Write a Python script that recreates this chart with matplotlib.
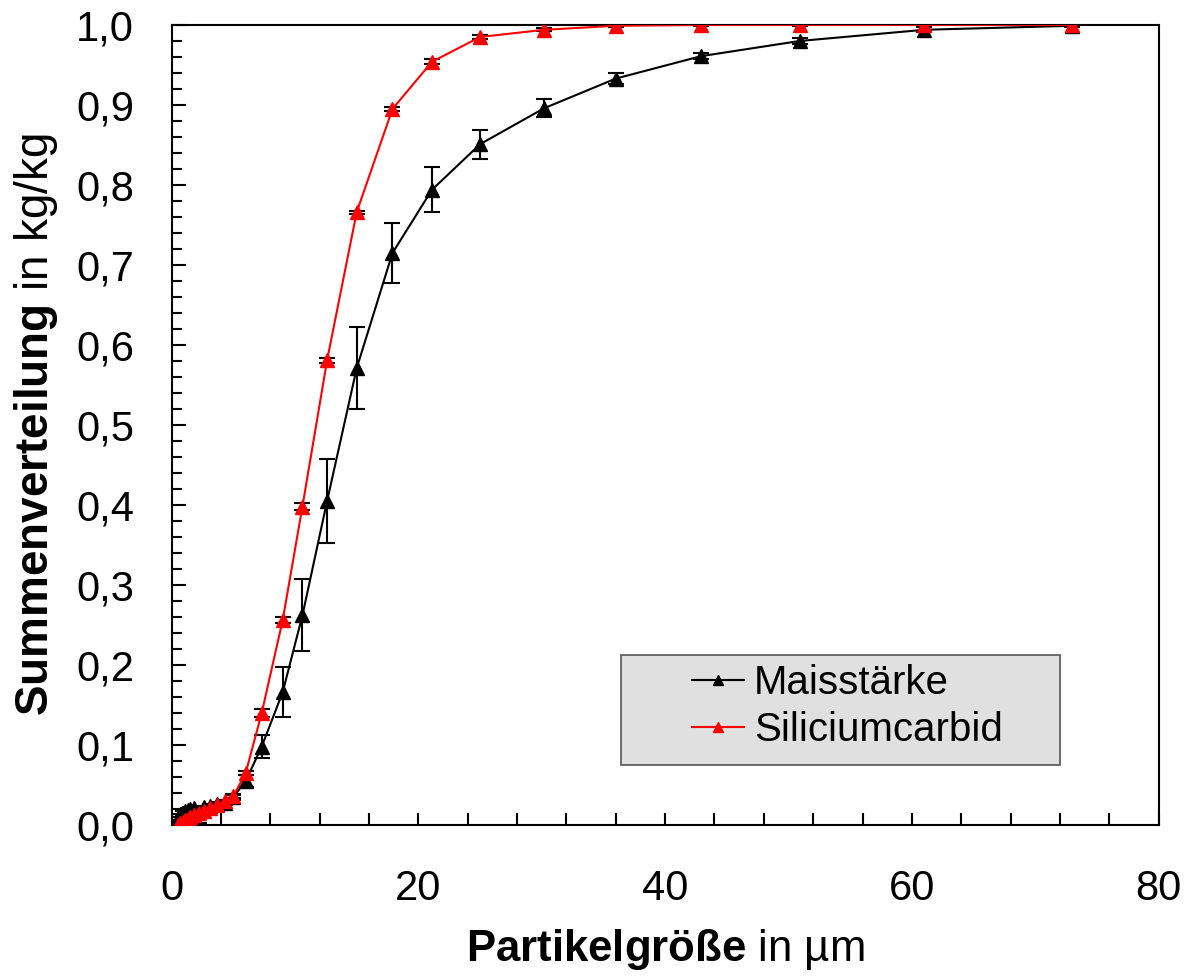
import numpy as np
import matplotlib.pyplot as plt
from matplotlib.patches import Rectangle
from matplotlib.lines import Line2D
from matplotlib.ticker import MultipleLocator, FuncFormatter

plt.rcParams['font.family'] = ['Liberation Sans', 'DejaVu Sans']
plt.rcParams['mathtext.fontset'] = 'custom'
plt.rcParams['mathtext.rm'] = 'Liberation Sans'
plt.rcParams['mathtext.bf'] = 'Liberation Sans:bold'

# particle size classes in um (shared by both samples)
size = [0.5, 0.7, 0.9, 1.1, 1.3, 1.5, 1.8, 2.2, 2.6, 3.1, 3.7, 4.3, 5.0, 6.0,
        7.3, 9.0, 10.6, 12.6, 15.0, 17.9, 21.1, 25.0, 30.2, 36.0, 42.9, 50.9, 61.0, 73.0]

mais = [0.008, 0.012, 0.015, 0.017, 0.019, 0.020, 0.021, 0.000, 0.022, 0.024, 0.026, 0.028, 0.035, 0.055,
        0.098, 0.166, 0.262, 0.405, 0.571, 0.715, 0.794, 0.851, 0.896, 0.933, 0.961, 0.980, 0.994, 0.999]
mais_err = [0.002, 0.002, 0.002, 0.002, 0.002, 0.002, 0.002, 0.002, 0.002, 0.002, 0.003, 0.003, 0.004, 0.007,
            0.014, 0.031, 0.045, 0.053, 0.051, 0.037, 0.028, 0.018, 0.011, 0.007, 0.004, 0.004, 0.003, 0.002]

sic = [0.000, 0.002, 0.004, 0.006, 0.008, 0.010, 0.012, 0.015, 0.018, 0.021, 0.025, 0.030, 0.036, 0.065,
       0.140, 0.256, 0.398, 0.581, 0.766, 0.895, 0.954, 0.985, 0.994, 0.999, 1.000, 1.000, 1.000, 1.000]
sic_err = [0.001, 0.001, 0.001, 0.001, 0.001, 0.001, 0.001, 0.001, 0.001, 0.001, 0.001, 0.001, 0.002, 0.003,
           0.005, 0.004, 0.004, 0.003, 0.002, 0.003, 0.003, 0.002, 0.002, 0.001, 0.001, 0.001, 0.001, 0.001]

fig = plt.figure(figsize=(11.92, 9.76), dpi=100)
ax = fig.add_axes([0.144, 0.1547, 0.828, 0.8197])

ax.errorbar(size, mais, yerr=mais_err, color='black', marker='^', markersize=10, lw=1.5,
            elinewidth=1.5, capsize=6, capthick=1.5, zorder=3)
ax.errorbar(size, sic, yerr=sic_err, fmt='none', ecolor='black',
            elinewidth=1.5, capsize=6, capthick=1.5, zorder=3)
ax.plot(size, sic, color='red', marker='^', markersize=10.5, lw=1.5, zorder=4)

ax.set_xlim(0, 80)
ax.set_ylim(0, 1.0)
ax.xaxis.set_major_locator(MultipleLocator(20))
ax.xaxis.set_minor_locator(MultipleLocator(4))
ax.yaxis.set_major_locator(MultipleLocator(0.1))
ax.yaxis.set_minor_locator(MultipleLocator(0.02))
ax.yaxis.set_major_formatter(FuncFormatter(lambda v, p: f'{v:.1f}'.replace('.', ',')))

ax.tick_params(axis='x', which='both', direction='in', length=9, width=1.5, labelsize=30, pad=32)
ax.tick_params(axis='y', which='major', direction='in', length=10, width=1.5, labelsize=30, pad=27)
ax.tick_params(axis='y', which='minor', direction='in', length=7, width=1.5)
for s in ax.spines.values():
    s.set_linewidth(1.5)

ax.set_xlabel(r'$\bf{Partikelgröße}$ in µm', fontsize=31.5)
ax.set_ylabel(r'$\bf{Summenverteilung}$ in kg/kg', fontsize=33)
ax.xaxis.set_label_coords(0.5, -0.128)
ax.yaxis.set_label_coords(-0.113, 0.5)

# legend box
ax.add_patch(Rectangle((0.455, 0.075), 0.445, 0.1375, transform=ax.transAxes,
                       facecolor='#e0e0e0', edgecolor='#555555', lw=1.2, zorder=5))
handles = [Line2D([], [], color='black', marker='^', markersize=7, lw=1.5),
           Line2D([], [], color='red', marker='^', markersize=7, lw=1.5)]
leg = ax.legend(handles, ['Maisstärke', 'Siliciumcarbid'], loc='center left',
                bbox_to_anchor=(0.527, 0.148), frameon=False, fontsize=29, borderpad=0,
                borderaxespad=0, handlelength=1.3, handletextpad=0.25, labelspacing=0.22)
leg.set_zorder(6)

fig.savefig('out.png', dpi=100)
